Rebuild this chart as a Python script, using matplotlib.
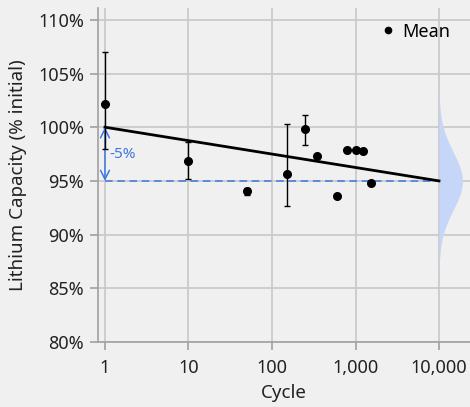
import numpy as np
import matplotlib
matplotlib.use("agg")
from matplotlib import pyplot as plt
from matplotlib.ticker import FixedLocator, FuncFormatter
from matplotlib.lines import Line2D

plt.rcParams['font.family'] = ['Noto Sans', 'DejaVu Sans']

# data
cycles = [1, 10, 50, 150, 250, 350, 600, 790, 1000, 1230, 1550]
capacity = [102.2, 96.9, 94.1, 95.6, 99.8, 97.3, 93.6, 97.9, 97.9, 97.8, 94.8]
err_low = [4.2, 1.7, 0.4, 2.9, 1.5, 0, 0, 0, 0, 0, 0]
err_high = [4.8, 1.7, 0.2, 4.7, 1.3, 0, 0, 0, 0, 0, 0]

trend_x = [1, 10000]
trend_y = [100, 95]
target = 95
drop_label = "-5%"

dist_mean = 95
dist_sigma = 2.7

x_ticks = [1, 10, 100, 1000, 10000]
y_ticks = [80, 85, 90, 95, 100, 105, 110]

bg = "#f0f0f0"
blue = "#3c78e0"
grid_c = "#c8c8c8"
txt_c = "#222222"

fig = plt.figure(figsize=(4.7, 4.07), dpi=100, facecolor=bg)
ax = fig.add_axes([98/470, 1-342/407, 1-98/470, (342-8)/407])
ax.set_facecolor(bg)

ax.set_xscale("log")
ax.set_xlim(0.825, 23500)
ax.set_ylim(80, 111.1)

# grid
ax.xaxis.set_major_locator(FixedLocator(x_ticks))
ax.xaxis.set_minor_locator(FixedLocator([]))
ax.yaxis.set_major_locator(FixedLocator(y_ticks))
ax.grid(True, color=grid_c, lw=1.2, zorder=0)
ax.set_axisbelow(True)

ax.xaxis.set_major_formatter(FuncFormatter(lambda v, p: f"{int(v):,}"))
ax.yaxis.set_major_formatter(FuncFormatter(lambda v, p: f"{int(v)}%"))

for s in ["top", "right"]:
    ax.spines[s].set_visible(False)
for s in ["left", "bottom"]:
    ax.spines[s].set_color("#a0a0a0")
    ax.spines[s].set_linewidth(1.2)
ax.tick_params(colors="#a0a0a0", labelcolor=txt_c, labelsize=13, length=6, width=1.2)
ax.tick_params(axis="x", pad=6)
ax.tick_params(axis="y", pad=4)

# distribution at the end
yy = np.linspace(dist_mean - 3 * dist_sigma, dist_mean + 3 * dist_sigma, 200)
pdf = np.exp(-0.5 * ((yy - dist_mean) / dist_sigma) ** 2)
xx = trend_x[-1] * 10 ** (0.28 * pdf)
ax.fill_betweenx(yy, trend_x[-1], xx, color="#c6d6f8", lw=0, zorder=2)

# target dashed line
ax.plot(trend_x, [target, target], color=blue, lw=1.1, ls=(0, (5, 3)), zorder=3)

# trend
ax.plot(trend_x, trend_y, color="black", lw=2, zorder=4)

# arrow and label
ax.annotate("", xy=(trend_x[0], trend_y[0]), xytext=(trend_x[0], target),
            arrowprops=dict(arrowstyle="<->", color=blue, lw=1.1,
                            shrinkA=0, shrinkB=0, mutation_scale=16), zorder=5)
ax.text(1.12, (trend_y[0] + target) / 2, drop_label, color=blue, fontsize=11,
        va="center", ha="left")

# means with error bars
ax.errorbar(cycles, capacity, yerr=[err_low, err_high], fmt="o", color="black",
            ms=5.5, elinewidth=1, capsize=2, capthick=1, zorder=6)

handle = Line2D([], [], marker="o", ls="none", color="black", ms=4.5)
ax.legend([handle], ["Mean"], loc="upper right", bbox_to_anchor=(0.99, 1.005),
          frameon=False, fontsize=13, handletextpad=0.3, handlelength=1.0)

ax.set_xlabel("Cycle", fontsize=13.5, color=txt_c, labelpad=5)
ax.set_ylabel("Lithium Capacity (% initial)", fontsize=13.5, color=txt_c, labelpad=8)

fig.savefig("out.png", dpi=100, facecolor=bg)
